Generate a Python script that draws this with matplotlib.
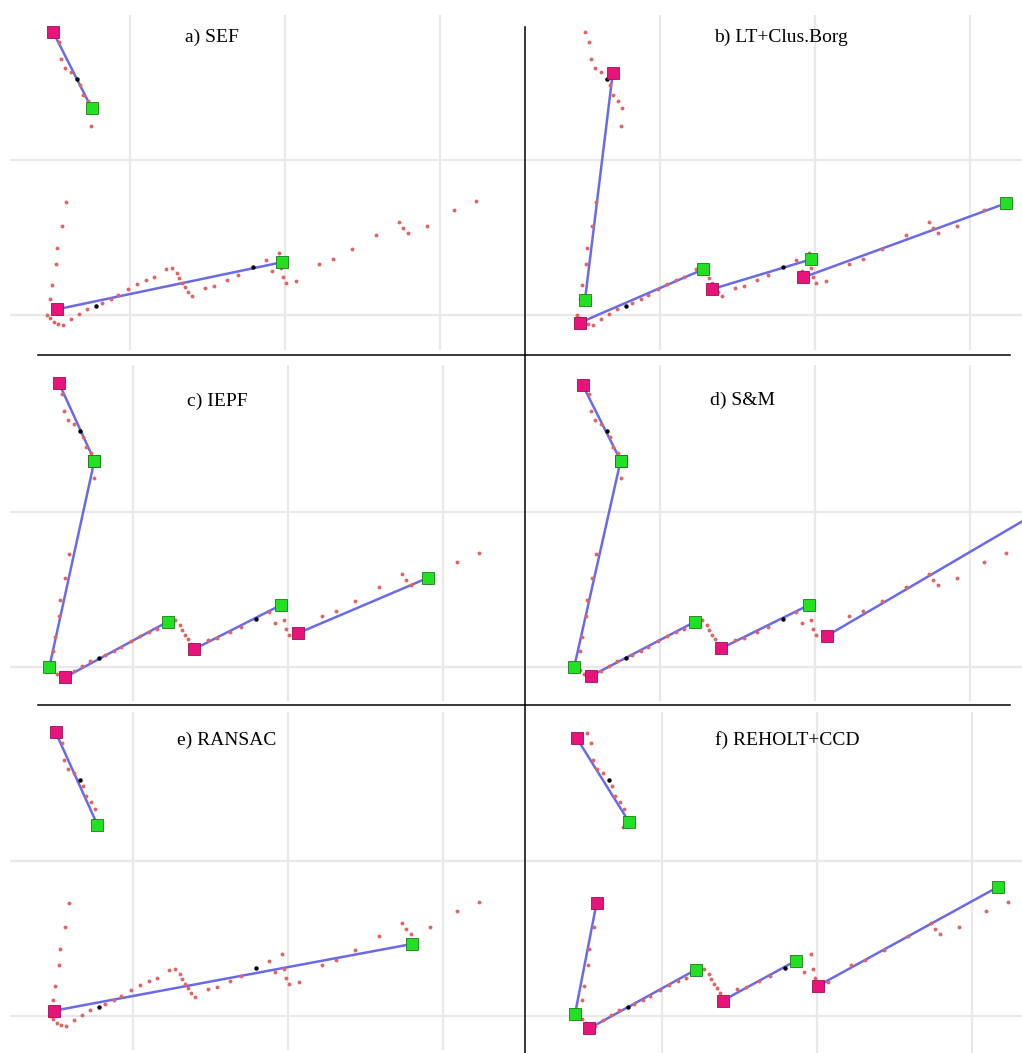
import matplotlib
matplotlib.use("Agg")
import matplotlib.pyplot as plt
from matplotlib.lines import Line2D

# laser scan points (metres), same scan in every panel
scan_x = [0.518, 0.544, 0.557, 0.583, 0.619, 0.677, 0.697, 0.727, 0.753, 0.751,
          0.587, 0.559, 0.531, 0.523, 0.495, 0.484,
          0.462, 0.484, 0.510, 0.538, 0.566,
          0.619, 0.673, 0.725, 0.817, 0.877, 0.925, 0.985, 1.047, 1.101, 1.155, 1.230, 1.273,
          1.301, 1.316, 1.333, 1.355, 1.376, 1.402, 1.484, 1.544, 1.624, 1.695,
          1.875, 1.914, 1.963, 1.972, 1.985, 2.006, 2.069,
          2.222, 2.312, 2.434, 2.585, 2.738, 2.763, 2.796, 2.914, 3.092, 3.230]
scan_y = [1.828, 1.761, 1.654, 1.591, 1.570, 1.484, 1.419, 1.378, 1.338, 1.219,
          0.727, 0.574, 0.430, 0.327, 0.194, 0.101,
          0.000, -0.022, -0.043, -0.058, -0.065,
          -0.026, 0.004, 0.037, 0.075, 0.103, 0.129, 0.168, 0.200, 0.226, 0.247, 0.295, 0.301,
          0.269, 0.237, 0.209, 0.178, 0.146, 0.120, 0.172, 0.187, 0.226, 0.258,
          0.355, 0.286, 0.402, 0.303, 0.247, 0.209, 0.222,
          0.327, 0.361, 0.426, 0.514, 0.602, 0.563, 0.531, 0.576, 0.677, 0.733]

# black marked points
mark_x = [0.656, 0.778, 1.791]
mark_y = [1.523, 0.060, 0.310]

titles = ["a) SEF", "b) LT+Clus.Borg", "c) IEPF", "d) S&M", "e) RANSAC", "f) REHOLT+CCD"]

# extracted segments per method: start (x, y) and end (x, y)
sef_start = [(0.505, 1.824), (0.531, 0.037)]
sef_end = [(0.753, 1.333), (1.978, 0.340)]

lt_start = [(0.695, 1.559), (0.484, -0.049), (1.333, 0.166), (1.925, 0.243)]
lt_end = [(0.516, 0.097), (1.280, 0.295), (1.974, 0.359), (3.230, 0.720)]

iepf_start = [(0.523, 1.830), (0.751, 1.331), (0.561, -0.067), (1.396, 0.116), (2.062, 0.217)]
iepf_end = [(0.751, 1.331), (0.460, -0.002), (1.224, 0.292), (1.955, 0.400), (2.905, 0.576)]

sm_start = [(0.501, 1.819), (0.746, 1.331), (0.555, -0.058), (1.394, 0.120), (2.075, 0.200)]
sm_end = [(0.746, 1.331), (0.447, 0.002), (1.226, 0.292), (1.961, 0.400), (3.750, 1.182)]

ransac_start = [(0.501, 1.830), (0.490, 0.034)]
ransac_end = [(0.770, 1.234), (2.802, 0.465)]

reholt_start = [(0.449, 1.794), (0.578, 0.729), (0.531, -0.080), (1.391, 0.099), (2.009, 0.196)]
reholt_end = [(0.789, 1.249), (0.439, 0.013), (1.219, 0.299), (1.865, 0.357), (3.170, 0.834)]

starts = [sef_start, lt_start, iepf_start, sm_start, ransac_start, reholt_start]
ends = [sef_end, lt_end, iepf_end, sm_end, ransac_end, reholt_end]

W, H = 1022, 1053
PX = 155.0  # pixels per metre
# panel box in pixels (x0, y0, x1, y1), pixel pos of x=1 and y=0 grid lines
boxes = [(10, 15, 517, 350, 130, 315), (512, 15, 1022, 350, 660, 315),
         (10, 365, 517, 701, 133, 667), (512, 365, 1022, 701, 660, 667),
         (10, 712, 517, 1050, 133, 1016), (512, 712, 1022, 1053, 662, 1016)]
title_pos = [(212, 37), (781, 37), (217, 401), (742, 400), (227, 740), (787, 740)]

fig = plt.figure(figsize=(W / 100, H / 100), dpi=100)

for i in range(6):
    x0, y0, x1, y1, gx, gy = boxes[i]
    ax = fig.add_axes([x0 / W, 1 - y1 / H, (x1 - x0) / W, (y1 - y0) / H])
    ax.set_xlim(1 + (x0 - gx) / PX, 1 + (x1 - gx) / PX)
    ax.set_ylim((gy - y1) / PX, (gy - y0) / PX)
    ax.set_xticks([1, 2, 3])
    ax.set_yticks([0, 1])
    ax.grid(True, color="#e8e8e8", linewidth=1.6)
    ax.tick_params(length=0, labelbottom=False, labelleft=False)
    for s in ax.spines.values():
        s.set_visible(False)
    ax.set_axisbelow(True)

    for (sx, sy), (ex, ey) in zip(starts[i], ends[i]):
        ax.plot([sx, ex], [sy, ey], color="#6a6ae8", linewidth=1.8, zorder=2)
    ax.plot(scan_x, scan_y, "o", color="#e06464", markersize=2.8, markeredgewidth=0, zorder=3)
    ax.plot(mark_x, mark_y, "o", color="black", markersize=3.2, markeredgewidth=0, zorder=4)
    for sx, sy in starts[i]:
        ax.plot(sx, sy, "s", color="#e8147c", markeredgecolor="#9a1050",
                markeredgewidth=0.6, markersize=8.5, zorder=5)
    for ex, ey in ends[i]:
        ax.plot(ex, ey, "s", color="#22e022", markeredgecolor="#1a7a1a",
                markeredgewidth=0.6, markersize=8, zorder=6)

    tx, ty = title_pos[i]
    fig.text(tx / W, 1 - ty / H, titles[i], ha="center", va="center",
             fontsize=14, family="Liberation Serif")

# separators between panels
fig.add_artist(Line2D([38 / W, 1010 / W], [1 - 355 / H, 1 - 355 / H], color="black", linewidth=1.1))
fig.add_artist(Line2D([38 / W, 1010 / W], [1 - 705 / H, 1 - 705 / H], color="black", linewidth=1.1))
fig.add_artist(Line2D([525 / W, 525 / W], [1 - 27 / H, 0], color="black", linewidth=1.1))

fig.savefig("out.png", dpi=100, facecolor="white")
